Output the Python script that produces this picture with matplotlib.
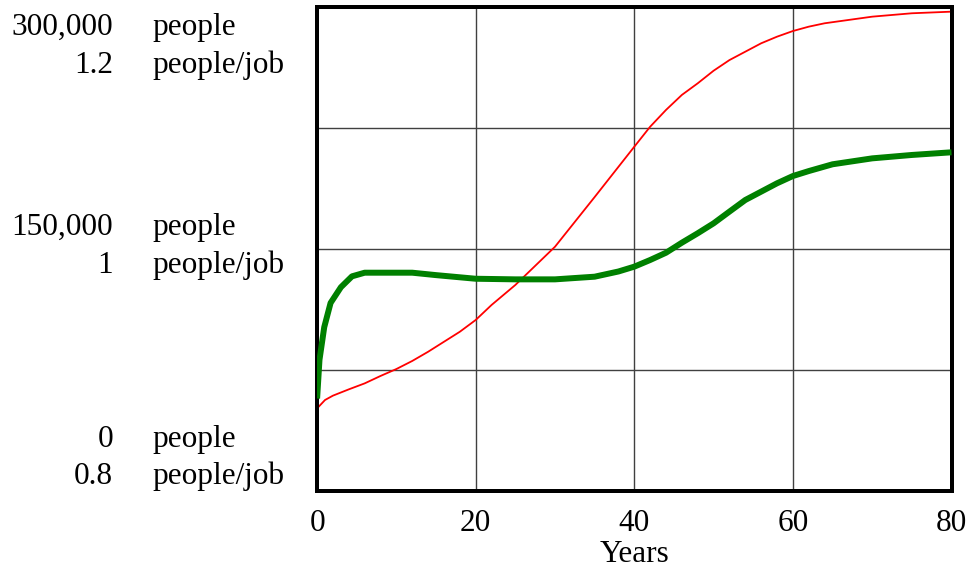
import matplotlib
matplotlib.use("Agg")
import matplotlib.pyplot as plt

# ---- data ----
years_people = [0, 1, 2, 4, 6, 8, 10, 12, 14, 16, 18, 20, 22, 25, 30, 35, 40, 42, 44, 46,
                48, 50, 52, 54, 56, 58, 60, 62, 64, 70, 75, 80]
people = [50900, 56100, 58800, 62700, 66400, 71000, 75300, 80300, 86000, 92200, 98400,
          105700, 115000, 127400, 151100, 181900, 213100, 225500, 235900, 245200,
          252400, 260200, 266800, 272000, 277200, 281300, 284800, 287500, 289600,
          293700, 295800, 296800]

years_ratio = [0, 0.3, 0.9, 1.7, 3, 4.4, 6, 10, 12, 15, 20, 25, 30, 35, 38, 40, 42, 44,
               46, 48, 50, 52, 54, 56, 58, 60, 62, 65, 70, 75, 80]
ratio = [0.876, 0.908, 0.935, 0.955, 0.968, 0.977, 0.980, 0.980, 0.980, 0.978, 0.975,
         0.9745, 0.9745, 0.9767, 0.981, 0.985, 0.9905, 0.9965, 1.0048, 1.0126, 1.0208,
         1.0305, 1.0401, 1.047, 1.0539, 1.0599, 1.064, 1.0696, 1.0745, 1.0773, 1.0795]

x_ticks = [0, 20, 40, 60, 80]
people_range = [0, 300000]
ratio_range = [0.8, 1.2]
left_labels = [  # (axes fraction, number, unit)
    (1.0, "300,000", "people"), (1.0, "1.2", "people/job"),
    (0.5, "150,000", "people"), (0.5, "1", "people/job"),
    (0.0, "0", "people"), (0.0, "0.8", "people/job"),
]
label_baseline_offsets = [-28.5, -66.5, 13.5, -24.5, 43.5, 6.5]  # pixels from tick

plt.rcParams['font.family'] = ['Liberation Serif', 'DejaVu Serif']
FS = 22.5

fig = plt.figure(figsize=(9.77, 5.75), dpi=100)
ax = fig.add_axes([317.1 / 977, 1 - 490.5 / 575, 634.4 / 977, 484 / 575])
ax.set_xlim(0, 80)
ax.set_ylim(*people_range)
ax2 = ax.twinx()
ax2.set_ylim(*ratio_range)

# grid
ax.set_xticks(x_ticks)
ax.set_yticks([0, 75000, 150000, 225000, 300000])
ax.grid(True, color='#404040', linewidth=1.0)
ax.set_axisbelow(True)
ax.tick_params(axis='y', left=False, labelleft=False)
ax.tick_params(axis='x', length=0, pad=13, labelsize=FS)
ax2.set_yticks([])

for sp in list(ax.spines.values()) + list(ax2.spines.values()):
    sp.set_linewidth(2.8)
    sp.set_color('black')

ax.plot(years_people, people, color='#ff0000', linewidth=1.3, zorder=3)
ax2.plot(years_ratio, ratio, color='#008000', linewidth=4.3, zorder=3,
         solid_capstyle='butt', solid_joinstyle='round')

ax.set_xlabel("Years", fontsize=FS, labelpad=2)

for (frac, num, unit), off in zip(left_labels, label_baseline_offsets):
    ax.annotate(num, xy=(0, frac), xycoords='axes fraction',
                xytext=(113 - 317.1, off), textcoords='offset pixels',
                ha='right', va='baseline', fontsize=FS)
    ax.annotate(unit, xy=(0, frac), xycoords='axes fraction',
                xytext=(152 - 317.1, off), textcoords='offset pixels',
                ha='left', va='baseline', fontsize=FS)

fig.savefig("out.png", dpi=100)
